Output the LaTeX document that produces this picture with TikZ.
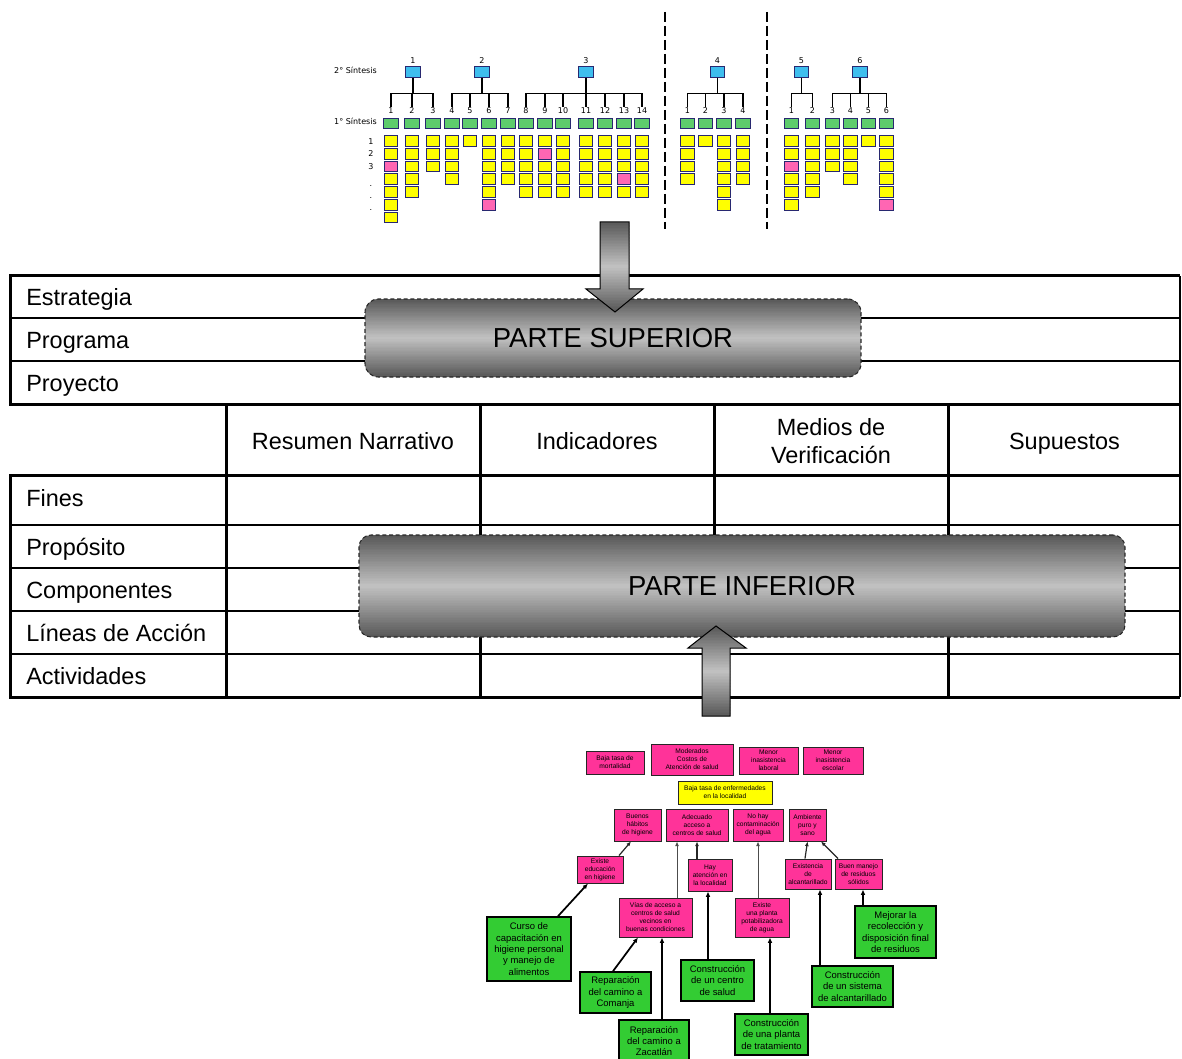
\documentclass[tikz,border=0pt]{standalone}
\usepackage{fontspec}
\setmainfont{Liberation Sans}
\newfontfamily\treefont{DejaVu Sans}
\usetikzlibrary{calc,arrows.meta}

\definecolor{cellblue}{RGB}{62,190,238}
\definecolor{cellgreen}{RGB}{94,204,108}
\definecolor{cellyellow}{RGB}{255,255,0}
\definecolor{cellpink}{RGB}{255,102,179}
\definecolor{celledge}{RGB}{40,40,112}
\definecolor{objpink}{RGB}{255,51,153}
\definecolor{objgreen}{RGB}{51,204,51}
\definecolor{objyellow}{RGB}{255,255,0}

% vertical grey ramp (dark - light - dark) built from thin strips
\newcommand\gradstrips[4]{%
  \foreach \i in {0,...,59}{%
    \pgfmathsetmacro\gradval{66-42*(1-abs(2*(\i+0.5)/60-1))}%
    \fill[black!\gradval] (#1,{#2+\i*(#4-#2)/60}) rectangle (#3,{#2+(\i+1)*(#4-#2)/60+0.8});
  }}

\tikzset{
  cell/.style={draw=celledge, line width=0.75pt, minimum width=10.3pt,
    minimum height=7.9pt, inner sep=0pt},
  treelabel/.style={font=\treefont\fontsize{6}{7}\selectfont, inner sep=0.5pt},
  treeline/.style={line width=0.9pt, black},
  separator/.style={line width=1.4pt, dash pattern=on 7.5pt off 3pt},
  thickrule/.style={line width=2.25pt},
  thinrule/.style={line width=1.5pt},
  rowtext/.style={font=\fontsize{17.6}{21}\selectfont, anchor=base west, inner sep=0pt},
  headtext/.style={font=\fontsize{17.6}{21}\selectfont, anchor=base, inner sep=0pt},
  partebox/.style={rounded corners=10pt, draw=black!85, line width=0.8pt,
    dash pattern=on 3pt off 2pt, font=\fontsize{20.6}{24}\selectfont, inner sep=0pt},
  arrowedge/.style={draw=black, line width=0.75pt},
  objp/.style={draw=black!85, line width=0.7pt, fill=objpink, align=center,
    inner sep=0pt, font=\fontsize{5}{6}\selectfont},
  objy/.style={objp, fill=objyellow},
  objg/.style={draw=black, line width=1.2pt, fill=objgreen, align=center,
    inner sep=0pt, font=\fontsize{7.1}{8.5}\selectfont},
  link/.style={line width=0.9pt, black!85, -{Latex[length=3.5pt,width=3pt]}},
  softlink/.style={line width=0.7pt, black!70, -{Latex[length=3.5pt,width=3pt]}},
  strong/.style={line width=1.3pt, black, -{Latex[length=4pt,width=3.5pt]}},
}

\begin{document}
\begin{tikzpicture}[x=0.75pt,y=-0.75pt]
\useasboundingbox (0,0) rectangle (1182,1059);

% ---------- second synthesis (blue) ----------
\foreach \x/\l in {413/1, 482/2, 586/3, 717.5/4, 801.5/5, 860/6} {
  \node[cell, fill=cellblue, minimum width=10.9pt, minimum height=8.2pt] (s\l) at (\x,72) {};
  \node[treelabel] (sl\l) at (\x,61) {\l};
}
\node[treelabel] (syn2) at (355.5,70) {2° Síntesis};
\node[treelabel] (syn1) at (355.5,121) {1° Síntesis};

% ---------- first synthesis (green) and their items ----------
\foreach \x/\n/\p/\l [count=\c] in {
   391/7/3/1, 412/5/0/2, 433/3/0/3, 452/4/0/4, 470/1/0/5, 489/6/6/6, 508/4/0/7,
   526/5/0/8, 545/5/2/9, 563/5/0/10, 586/5/0/11, 605/5/0/12, 624/5/4/13, 642/5/0/14,
   687.5/4/0/1, 705.5/1/0/2, 724/6/0/3, 743/4/0/4,
   791.5/6/3/1, 812.5/5/0/2, 832.5/3/0/3, 850.5/4/0/4, 868.5/1/0/5, 886.5/6/6/6} {
  \node[treelabel] (n\c) at (\x,111) {\l};
  \node[cell, fill=cellgreen, minimum width=10.9pt] (g\c) at (\x,123.5) {};
  \foreach \r in {1,...,\n} {
    \ifnum\r=\p\relax\def\cellcol{cellpink}\else\def\cellcol{cellyellow}\fi
    \node[cell, fill=\cellcol] (y\c-\r) at (\x,{141+(\r-1)*12.75}) {};
  }
}

% item numbering
\node[treelabel] (r1) at (371,142) {1};
\node[treelabel] (r2) at (371,154) {2};
\node[treelabel] (r3) at (371,166.5) {3};
\node[treelabel] (r4) at (371,186) {.};
\node[treelabel] (r5) at (371,198) {.};
\node[treelabel] (r6) at (371,210) {.};

% grouping trees
\foreach \k in {1,2,3} \draw[treeline] (s1.south) -- ++(0,15.5) -| (n\k.north);
\foreach \k in {4,5,6,7} \draw[treeline] (s2.south) -- ++(0,15.5) -| (n\k.north);
\foreach \k in {8,...,14} \draw[treeline] (s3.south) -- ++(0,15.5) -| (n\k.north);
\foreach \k in {15,...,18} \draw[treeline] (s4.south) -- ++(0,15.5) -| (n\k.north);
\foreach \k in {19,20} \draw[treeline] (s5.south) -- ++(0,15.5) -| (n\k.north);
\foreach \k in {21,...,24} \draw[treeline] (s6.south) -- ++(0,15.5) -| (n\k.north);

% dashed separators between the three blocks
\draw[separator] (665,12) -- (665,229);
\draw[separator] (767,12) -- (767,229);

% ---------- matrix table ----------
\draw[thinrule] (10,318) -- (1180,318);
\draw[thinrule] (10,361) -- (1180,361);
\foreach \y in {525,568,611,654} \draw[thinrule] (10,\y) -- (1180,\y);
\foreach \x in {226,480,714,948} \draw[thickrule] (\x,404) -- (\x,697);
\draw[thickrule] (1180,276) -- (10,276) -- (10,404) -- (1180,404);
\draw[thickrule] (1180,475) -- (10,475) -- (10,697) -- (1180,697);
\draw[line width=1.1pt] (1180,276) -- (1180,697);

\node[rowtext] (estr) at (26,306) {Estrategia};
\node[rowtext] (prog) at (26,349) {Programa};
\node[rowtext] (proy) at (26,392) {Proyecto};
\node[rowtext] (fine) at (26,506) {Fines};
\node[rowtext] (prop) at (26,555) {Propósito};
\node[rowtext] (comp) at (26,598) {Componentes};
\node[rowtext] (line) at (26,641) {Líneas de Acción};
\node[rowtext] (acti) at (26,684) {Actividades};

\node[headtext] (hres) at (353,449) {Resumen Narrativo};
\node[headtext] (hind) at (597,449) {Indicadores};
\node[headtext] (hmed) at (831,435) {Medios de};
\node[headtext] (hver) at (831,463) {Verificación};
\node[headtext] (hsup) at (1064.5,449) {Supuestos};

% ---------- upper and lower parts (grey ramps, then outlines) ----------
\begin{scope}
  \clip[rounded corners=10pt] (365,299) rectangle (861,377);
  \gradstrips{365}{299}{861}{377}
\end{scope}
\node[partebox, minimum width=372pt, minimum height=58.5pt] (sup) at (613,338) {PARTE SUPERIOR};

\begin{scope}
  \clip[rounded corners=9pt] (359,535) rectangle (1125,637);
  \gradstrips{359}{535}{1125}{637}
\end{scope}
\node[partebox, minimum width=574.5pt, minimum height=76.5pt, rounded corners=9pt] (inf) at (742,586) {PARTE INFERIOR};

\begin{scope}
  \clip (600,222) -- (629,222) -- (629,289) -- (643,289) -- (615,312)
    -- (586,289) -- (600,289) -- cycle;
  \gradstrips{585}{222}{644}{312}
\end{scope}
\path[arrowedge] (600,222) -- (629,222) -- (629,289) -- (643,289) -- (615,312)
  -- (586,289) -- (600,289) -- cycle;

\begin{scope}
  \clip (702,716) -- (730,716) -- (730,648) -- (746,648) -- (716,626)
    -- (688,648) -- (702,648) -- cycle;
  \gradstrips{687}{626}{747}{716}
\end{scope}
\path[arrowedge] (702,716) -- (730,716) -- (730,648) -- (746,648) -- (716,626)
  -- (688,648) -- (702,648) -- cycle;

% ---------- objectives tree ----------
\node[objp, minimum width=43.5pt, minimum height=17.25pt] (mort) at (615,762.5) {Baja tasa de\\mortalidad};
\node[objp, minimum width=61.5pt, minimum height=23.25pt] (cost) at (692,759.5) {Moderados\\Costos de\\Atención de salud};
\node[objp, minimum width=44.25pt, minimum height=20.25pt] (lab) at (768.5,760.5) {Menor\\inasistencia\\laboral};
\node[objp, minimum width=45pt, minimum height=20.25pt] (esc) at (833,760.5) {Menor\\inasistencia\\escolar};
\node[objy, minimum width=70.5pt, minimum height=17.25pt] (enf) at (725,792.5) {Baja tasa de enfermedades\\en la localidad};

\node[objp, minimum width=35.25pt, minimum height=24pt] (hig) at (637.5,825) {Buenos\\hábitos\\de higiene};
\node[objp, minimum width=46.5pt, minimum height=24pt] (acc) at (697,825) {Adecuado\\acceso a\\centros de salud};
\node[objp, minimum width=37.5pt, minimum height=24pt] (agua) at (758,825) {No hay\\contaminación\\del agua};
\node[objp, minimum width=27.75pt, minimum height=24pt] (amb) at (807.5,825) {Ambiente\\puro y\\sano};

\node[objp, minimum width=34.5pt, minimum height=20.25pt] (edu) at (600,869.5) {Existe\\educación\\en higiene};
\node[objp, minimum width=33pt, minimum height=24pt] (aten) at (710,875) {Hay\\atención en\\la localidad};
\node[objp, minimum width=34.5pt, minimum height=22.5pt] (alc) at (808,874) {Existencia\\de\\alcantarillado};
\node[objp, minimum width=35.25pt, minimum height=22.5pt] (res) at (858.5,874) {Buen manejo\\de residuos\\sólidos};
\node[objp, minimum width=54.75pt, minimum height=29.25pt] (vias) at (655.5,917.5) {Vías de acceso a\\centros de salud\\vecinos en\\buenas condiciones};
\node[objp, minimum width=40.5pt, minimum height=29.25pt] (plan) at (762,917.5) {Existe\\una planta\\potabilizadora\\de agua};

\node[objg, minimum width=63pt, minimum height=48pt] (curso) at (529,949) {Curso de\\capacitación en\\higiene personal\\y manejo de\\alimentos};
\node[objg, minimum width=53.25pt, minimum height=30.75pt] (com) at (615.5,992.5) {Reparación\\del camino a\\Comanja};
\node[objg, minimum width=52.5pt, minimum height=31.5pt] (zac) at (654,1041) {Reparación\\del camino a\\Zacatlán};
\node[objg, minimum width=54.75pt, minimum height=30.75pt] (csal) at (717.5,980.5) {Construcción\\de un centro\\de salud};
\node[objg, minimum width=54.75pt, minimum height=30.75pt] (ptrat) at (771.5,1034.5) {Construcción\\de una planta\\de tratamiento};
\node[objg, minimum width=60.75pt, minimum height=30.75pt] (salc) at (852.5,986.5) {Construcción\\de un sistema\\de alcantarillado};
\node[objg, minimum width=60.75pt, minimum height=39pt] (mej) at (895.5,932) {Mejorar la\\recolección y\\disposición final\\de residuos};

% links between levels
\draw[link] ($(edu.north)+(19,0)$) -- ($(hig.south)+(-6.5,0)$);
\draw[softlink] ($(vias.north)+(21.5,0)$) -- ($(acc.south)+(-20,0)$);
\draw[link] ($(aten.north)+(-13,0)$) -- (acc.south);
\draw[softlink] ($(plan.north)+(-4,0)$) -- (agua.south);
\draw[link] ($(alc.north)+(-3,0)$) -- (amb.south);
\draw[link] ($(res.north)+(-20.5,0)$) -- ($(amb.south)+(13.5,0)$);

\draw[strong] ($(curso.north)+(29,0)$) -- ($(edu.south)+(-12,0)$);
\draw[strong] ($(com.north)+(-2.5,0)$) -- ($(vias.south)+(-17.5,0)$);
\draw[strong] ($(zac.north)+(8,0)$) -- ($(vias.south)+(6.5,0)$);
\draw[strong] ($(csal.north)+(-9.5,0)$) -- ($(aten.south)+(-2,0)$);
\draw[strong] ($(ptrat.north)+(-1.5,0)$) -- ($(plan.south)+(8,0)$);
\draw[strong] ($(salc.north)+(-32.5,0)$) -- ($(alc.south)+(12,0)$);
\draw[strong] ($(mej.north)+(-32.5,0)$) -- ($(res.south)+(4.5,0)$);
\end{tikzpicture}
\end{document}
